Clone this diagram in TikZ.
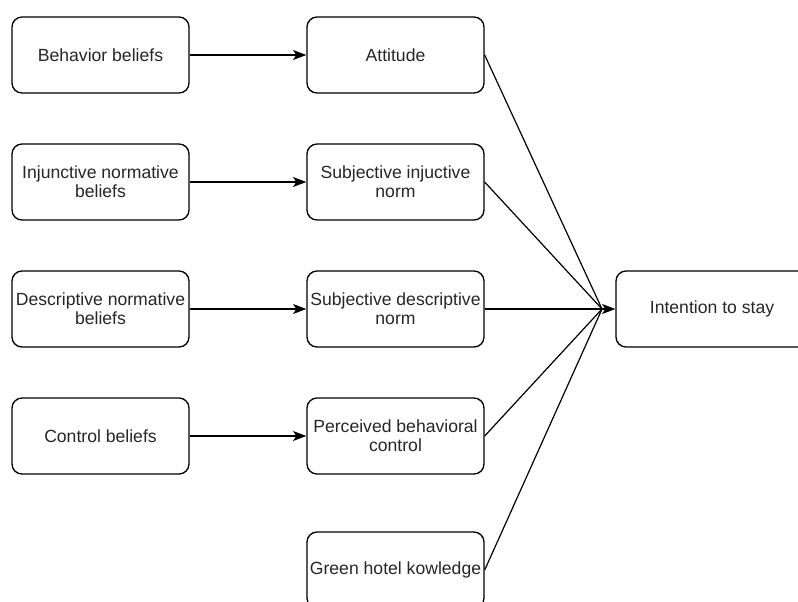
\documentclass[tikz,border=0pt]{standalone}
\usepackage{fontspec}
\setmainfont{Liberation Sans}
\usetikzlibrary{arrows.meta}
\begin{document}
\begin{tikzpicture}[x=0.75pt,y=-0.75pt,
  box/.style={draw, line width=1pt, rounded corners=7.5pt, minimum width=132.75pt,
    minimum height=57pt, align=center, inner sep=0pt,
    font=\fontsize{13.2}{14.4}\selectfont, text=black!85},
  link/.style={line width=0.9pt, -{Stealth[length=10pt,width=7.5pt,inset=2.5pt]}},
  mergeline/.style={line width=0.9pt}]
\useasboundingbox (0,0) rectangle (798,601);
\clip (0,0) rectangle (798,601);
% belief boxes
\node[box] (bb) at (100.5,55) {Behavior beliefs};
\node[box] (inb) at (100.5,182) {Injunctive normative\\beliefs};
\node[box] (dnb) at (100.5,309) {Descriptive normative\\beliefs};
\node[box] (cb) at (100.5,436) {Control beliefs};
% construct boxes
\node[box] (att) at (395.5,55) {Attitude};
\node[box] (sin) at (395.5,182) {Subjective injuctive\\norm};
\node[box] (sdn) at (395.5,309) {Subjective descriptive\\norm};
\node[box] (pbc) at (395.5,436) {Perceived behavioral\\control};
\node[box] (ghk) at (395.5,570) {Green hotel kowledge};
% outcome
\node[box, minimum width=144pt] (its) at (712,309) {Intention to stay};
\coordinate (m) at (602,309);
% belief -> construct
\draw[link] (bb) -- (att);
\draw[link] (inb) -- (sin);
\draw[link] (dnb) -- (sdn);
\draw[link] (cb) -- (pbc);
% constructs converge on intention
\draw[mergeline] (att.east) -- (m);
\draw[mergeline] (sin.east) -- (m);
\draw[mergeline] (pbc.east) -- (m);
\draw[mergeline] (ghk.east) -- (m);
\draw[link] (sdn.east) -- (m) -- (its.west);
\end{tikzpicture}
\end{document}
